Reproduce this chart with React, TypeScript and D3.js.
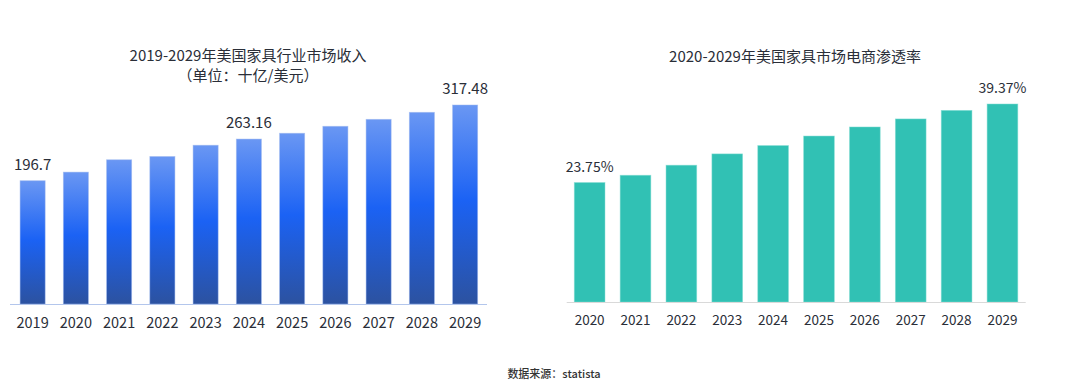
import React from 'react';
import * as d3 from 'd3';

// --- data ---
const revenueYears = ['2019', '2020', '2021', '2022', '2023', '2024', '2025', '2026', '2027', '2028', '2029'];
const revenueValues = [196.7, 210.4, 230.1, 235.3, 253.3, 263.16, 272.4, 283.5, 294.6, 305.8, 317.48];
const revenueLabeled = ['2019', '2024', '2029'];

const penetrationYears = ['2020', '2021', '2022', '2023', '2024', '2025', '2026', '2027', '2028', '2029'];
const penetrationValues = [23.75, 25.2, 27.2, 29.45, 31.1, 33.0, 34.8, 36.4, 38.1, 39.37];
const penetrationLabeled = ['2020', '2029'];

const FONT = '"Noto Sans CJK SC", "Noto Sans", sans-serif';
const TEXT = '#2a2e38';

const App: React.FC = () => {
    // left chart scales
    const xL = d3.scaleBand<string>()
        .domain(revenueYears)
        .range([11, 486.75])
        .paddingInner(0.42)
        .paddingOuter(0.21);
    const yL = d3.scaleLinear().domain([0, d3.max(revenueValues) as number]).range([304, 105]);

    // right chart scales
    const xR = d3.scaleBand<string>()
        .domain(penetrationYears)
        .range([566.7, 1025.4])
        .paddingInner(0.331)
        .paddingOuter(0.1655);
    const yR = d3.scaleLinear().domain([0, d3.max(penetrationValues) as number]).range([302, 104]);

    return (
        <div style={{ position: 'fixed', left: 0, top: 0 }}>
            <svg width={1080} height={386} style={{ display: 'block', background: '#fff' }} fontFamily={FONT}>
                <defs>
                    <linearGradient id="blueGrad" x1="0" y1="0" x2="0" y2="1">
                        <stop offset="0%" stopColor="#6a97f3" />
                        <stop offset="48%" stopColor="#1b62f4" />
                        <stop offset="100%" stopColor="#2c52a0" />
                    </linearGradient>
                </defs>

                {/* left: revenue */}
                <text x={248} y={61} textAnchor="middle" fontSize={15} fill={TEXT}>2019-2029年美国家具行业市场收入</text>
                <text x={248} y={80.5} textAnchor="middle" fontSize={15} fill={TEXT}>（单位：十亿/美元）</text>
                {revenueYears.map((yr, i) => {
                    const v = revenueValues[i];
                    const x = xL(yr) as number;
                    const bw = xL.bandwidth();
                    return (
                        <g key={yr}>
                            <rect x={x} y={yL(v)} width={bw} height={yL(0) - yL(v)}
                                fill="url(#blueGrad)" stroke="#9cb8ef" strokeOpacity={0.6} strokeWidth={0.8} />
                            {revenueLabeled.includes(yr) && (
                                <text x={x + bw / 2} y={yL(v) - 11} textAnchor="middle" fontSize={15} fill={TEXT}>{v}</text>
                            )}
                            <text x={x + bw / 2} y={328} textAnchor="middle" fontSize={14.5} fill={TEXT}>{yr}</text>
                        </g>
                    );
                })}
                <line x1={10} x2={487} y1={304.5} y2={304.5} stroke="#b3c6ec" strokeWidth={1.2} />

                {/* right: e-commerce penetration */}
                <text x={795} y={61.5} textAnchor="middle" fontSize={15} fill={TEXT}>2020-2029年美国家具市场电商渗透率</text>
                {penetrationYears.map((yr, i) => {
                    const v = penetrationValues[i];
                    const x = xR(yr) as number;
                    const bw = xR.bandwidth();
                    return (
                        <g key={yr}>
                            <rect x={x} y={yR(v)} width={bw} height={yR(0) - yR(v)}
                                fill="#31c1b4" stroke="#7fdcd2" strokeOpacity={0.6} strokeWidth={0.8} />
                            {penetrationLabeled.includes(yr) && (
                                <text x={x + bw / 2} y={yR(v) - 11} textAnchor="middle" fontSize={14} fill={TEXT}>{v.toFixed(2)}%</text>
                            )}
                            <text x={x + bw / 2} y={325} textAnchor="middle" fontSize={13.5} fill={TEXT}>{yr}</text>
                        </g>
                    );
                })}
                <line x1={566.7} x2={1025.7} y1={302.5} y2={302.5} stroke="#d9d9d9" strokeWidth={1.2} />

                <text x={554} y={378} textAnchor="middle" fontSize={11} fontWeight={500} fill="#333">数据来源：statista</text>
            </svg>
        </div>
    );
};

export default App;
